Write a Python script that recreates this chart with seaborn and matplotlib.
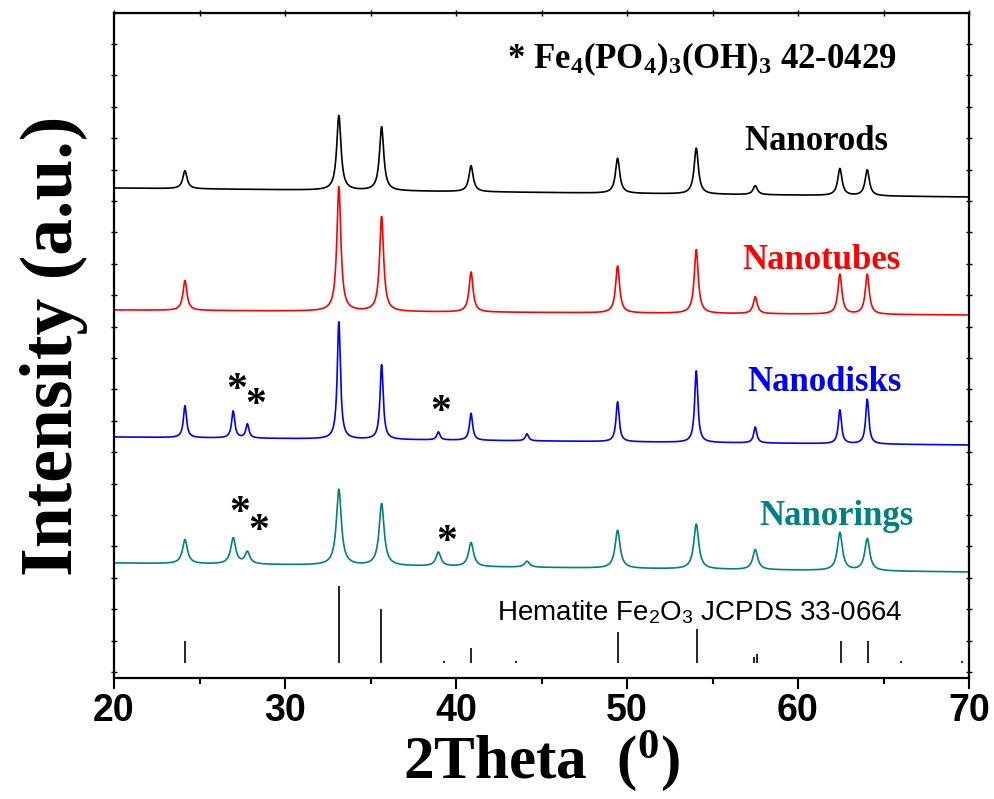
import numpy as np
import pandas as pd
import matplotlib
matplotlib.use("Agg")
import matplotlib.pyplot as plt
import seaborn as sns

# ---------------- data ----------------
samples = ["Nanorods", "Nanotubes", "Nanodisks", "Nanorings"]
colors = ["#000000", "#FF0000", "#0000FF", "#008080"]

# hematite reflections seen in the samples (2theta, degrees)
hematite_peaks = [24.15, 33.15, 35.65, 40.88, 49.45, 54.05, 57.5, 62.45, 64.05]
# Fe4(PO4)3(OH)3 impurity reflections (2theta, degrees)
impurity_peaks = [26.97, 27.8, 38.97, 44.15]

# peak heights above each pattern's background (a.u.)
rods_heights = [18, 75, 64, 26, 35, 46, 9, 27, 26]
tubes_heights = [30, 125, 95, 40, 47, 64, 17, 40, 40]
disks_heights = [32, 118, 75, 27, 40, 72, 16, 34, 45]
rings_heights = [24, 76, 62, 24, 38, 45, 20, 38, 32]

rods_impurity = [0, 0, 0, 0]
tubes_impurity = [0, 0, 0, 0]
disks_impurity = [27, 14, 8, 7]
rings_impurity = [26, 12, 14, 6]

# background level (stacking offset) at 20 and at 70 degrees
baseline_left = [490, 368, 241, 115]
baseline_right = [481, 363, 233, 106]
peak_fwhm = [0.30, 0.28, 0.22, 0.35]

# JCPDS 33-0664 reference stick pattern
ref_positions = [24.14, 33.15, 35.61, 39.28, 40.85, 43.52, 49.48, 54.09,
                 57.43, 57.59, 62.5, 64.1, 66.03, 69.6]
ref_heights = [22, 77, 54, 2, 15, 2, 31, 34, 6, 9, 22, 22, 2, 2]
ref_base = 15

x_ticks = [20, 30, 40, 50, 60, 70]

# ---------------- build the patterns ----------------
two_theta = np.arange(20.0, 70.0001, 0.02)
heights = [rods_heights, tubes_heights, disks_heights, rings_heights]
impurities = [rods_impurity, tubes_impurity, disks_impurity, rings_impurity]

frames = []
for i, name in enumerate(samples):
    y = np.linspace(baseline_left[i], baseline_right[i], two_theta.size)
    hw = peak_fwhm[i] / 2.0
    for c, h in zip(hematite_peaks + impurity_peaks, heights[i] + impurities[i]):
        y = y + h / (1.0 + ((two_theta - c) / hw) ** 2)
    frames.append(pd.DataFrame({"two_theta": two_theta, "intensity": y, "sample": name}))
df = pd.concat(frames, ignore_index=True)

# ---------------- style ----------------
sns.set_style("ticks")
plt.rcParams["font.family"] = ["Liberation Serif", "DejaVu Serif"]
plt.rcParams["text.color"] = "black"
plt.rcParams["axes.labelcolor"] = "black"
plt.rcParams["xtick.color"] = "black"
plt.rcParams["ytick.color"] = "black"
plt.rcParams["axes.edgecolor"] = "black"
plt.rcParams["mathtext.fontset"] = "custom"
plt.rcParams["mathtext.rm"] = "Liberation Serif:bold"
plt.rcParams["mathtext.bf"] = "Liberation Serif:bold"
plt.rcParams["mathtext.it"] = "Liberation Serif:bold"
plt.rcParams["mathtext.sf"] = "Liberation Sans"

W, H = 994, 799
fig = plt.figure(figsize=(W / 100, H / 100), dpi=100)
L, R, T, B = 114, 969, 13, 678
ax = fig.add_axes([L / W, 1 - B / H, (R - L) / W, (B - T) / H])

sns.lineplot(data=df, x="two_theta", y="intensity", hue="sample",
             palette=dict(zip(samples, colors)), estimator=None, sort=False,
             legend=False, linewidth=1.2, ax=ax)

ax.vlines(ref_positions, ref_base, [ref_base + h for h in ref_heights],
          color="black", linewidth=1.2)

ax.set_xlim(20, 70)
ax.set_ylim(0, 665)

def px(xp):
    return 20 + (xp - L) / ((R - L) / 50.0)

def py(yp):
    return B - yp

# titles / labels inside
ax.text(px(507), py(68), r"* Fe$_{4}$(PO$_{4}$)$_{3}$(OH)$_{3}$ 42-0429",
        fontsize=25, fontweight="bold", ha="left", va="baseline", color="black")
label_pos = [(744, 150), (742, 269), (747, 391), (759, 525)]
for name, col, (xp, yp) in zip(samples, colors, label_pos):
    ax.text(px(xp), py(yp), name, color=col, fontsize=25, fontweight="bold",
            ha="left", va="baseline")

ax.text(px(497), py(620), r"Hematite Fe$_\mathsf{2}$O$_\mathsf{3}$ JCPDS 33-0664",
        fontsize=20, family="Liberation Sans", ha="left", va="baseline", color="black")

star_pos = [(237, 391), (256, 406), (441, 413), (240, 514), (259, 532), (447, 543)]
for xp, yp in star_pos:
    ax.text(px(xp), py(yp), "*", fontsize=30, fontweight="bold",
            ha="center", va="center", color="black")

# axes cosmetics
for s in ax.spines.values():
    s.set_linewidth(1.6)
    s.set_visible(True)
    s.set_color("black")

ax.set_xticks(x_ticks)
ax.set_xticks(np.arange(25, 70, 10), minor=True)
ax.set_xticklabels([str(t) for t in x_ticks], family="Liberation Sans",
                   fontweight="bold", fontsize=27, color="black")
ax.tick_params(axis="x", which="major", direction="out", length=8, width=1.5, pad=3)
ax.tick_params(axis="x", which="minor", direction="out", length=4, width=1.5)
ax.set_yticks(np.arange(6, 665, 31.4))
ax.set_yticklabels([])
ax.tick_params(axis="y", which="major", direction="inout", length=5, width=1.0,
               left=True, right=True)

top = ax.secondary_xaxis("top")
top.set_xticks(np.arange(20, 71, 5))
top.set_xticklabels([])
top.tick_params(direction="inout", length=4, width=1.0)

ax.set_xlabel(r"2Theta  ($^{0}$)", fontsize=44, fontweight="bold", labelpad=0,
              color="black")
ax.set_ylabel("Intensity (a.u.)", fontsize=53, fontweight="bold", labelpad=13,
              color="black")

fig.savefig("out.png", dpi=100)
